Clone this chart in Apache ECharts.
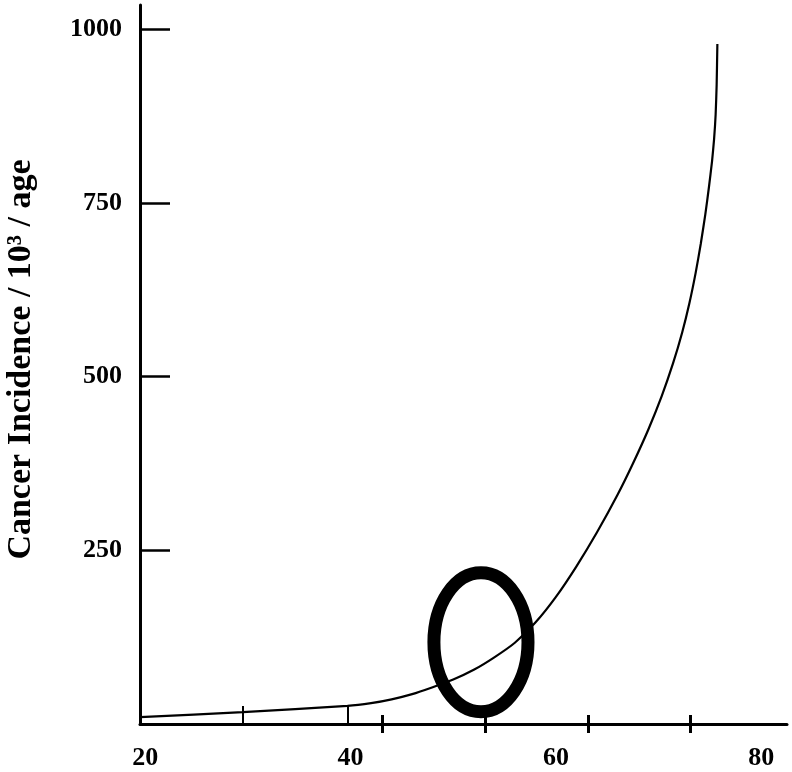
<!DOCTYPE html>
<html><head><meta charset="utf-8">
<script src="https://cdn.jsdelivr.net/npm/echarts@6/dist/echarts.min.js"></script>
<style>html,body{margin:0;padding:0;background:#fff}#c{width:792px;height:772px}</style>
</head><body><div id="c"></div>
<script>
// ---- data ----
const ageValues = [19.5, 29.5, 39.7, 42, 44, 46, 48, 50, 52, 54, 56, 58, 60, 62, 64, 66, 67.5, 69, 70.3, 71.4, 72.3, 73, 73.6, 74.1, 74.55, 74.9, 75.2, 75.4, 75.55, 75.65, 75.72];
const incidenceValues = [10, 17, 26, 30, 35.5, 43, 53, 64, 78, 96, 117, 146, 183, 227, 276, 330, 375, 424, 472, 519, 564, 606, 649, 691, 734, 773, 810, 842, 877, 920, 979];
const xLabelValues = [20, 40, 60, 80];
const yTickValues = [250, 500, 750, 1000];
const upperTickAges = [29.5, 39.7];
const crossTickAges = [43.1, 53.1, 63.1, 73.1];
// ellipse annotation: [centre age, centre incidence, half-width (years), half-height (incidence)]
const ellipseMark = [52.7, 117.6, 4.58, 100];
const yAxisTitle = 'Cancer Incidence / 10\u00B3 / age';

const X_MIN = 19.5, X_MAX = 82.5, Y_MIN = 0, Y_MAX = 1035;
const box = { left: 140, right: 5, top: 5, bottom: 48 };
const serif = 'Liberation Serif, Times New Roman, serif';

const lineData = ageValues.map((a, i) => [a, incidenceValues[i]]);

function baseX(idx, extra) {
  return Object.assign({
    type: 'value', gridIndex: idx, min: X_MIN, max: X_MAX,
    splitLine: { show: false },
    axisLine: { show: false },
    axisTick: { show: false },
    axisLabel: { show: false }
  }, extra);
}
function hiddenY(idx) {
  return { type: 'value', gridIndex: idx, min: Y_MIN, max: Y_MAX, show: false };
}

const option = {
  animation: false,
  backgroundColor: '#fff',
  grid: [0, 1, 2, 3].map(() => Object.assign({ containLabel: false, outerBoundsMode: 'none' }, box)),
  xAxis: [
    baseX(0, {
      axisLine: { show: true, onZero: false, lineStyle: { color: '#000', width: 3 } },
      axisLabel: {
        show: true, customValues: xLabelValues, margin: 21,
        formatter: v => String(v),
        color: '#000', fontFamily: serif, fontWeight: 'bold', fontSize: 26
      }
    }),
    baseX(1, {
      axisTick: { show: true, customValues: upperTickAges, inside: true, length: 18, lineStyle: { color: '#000', width: 2 } }
    }),
    baseX(2, {
      axisTick: { show: true, customValues: crossTickAges, inside: true, length: 9, lineStyle: { color: '#000', width: 3 } }
    }),
    baseX(3, {
      axisTick: { show: true, customValues: crossTickAges, inside: false, length: 9, lineStyle: { color: '#000', width: 3 } }
    })
  ],
  yAxis: [
    {
      type: 'value', gridIndex: 0, min: Y_MIN, max: Y_MAX,
      splitLine: { show: false },
      axisLine: { show: true, onZero: false, lineStyle: { color: '#000', width: 3 } },
      axisTick: { show: true, customValues: yTickValues, inside: true, length: 30, lineStyle: { color: '#000', width: 2.5 } },
      axisLabel: {
        customValues: yTickValues, margin: 18,
        formatter: v => String(v),
        color: '#000', fontFamily: serif, fontWeight: 'bold', fontSize: 26
      },
      name: yAxisTitle,
      nameLocation: 'middle',
      nameRotate: 90,
      nameGap: 102,
      nameTextStyle: { color: '#000', fontFamily: serif, fontWeight: 'bold', fontSize: 34, padding: [0, 0, 0, 10] }
    },
    hiddenY(1), hiddenY(2), hiddenY(3)
  ],
  series: [
    {
      type: 'line', xAxisIndex: 0, yAxisIndex: 0,
      data: lineData, showSymbol: false, smooth: 0.2,
      lineStyle: { color: '#000', width: 2.2 },
      silent: true
    },
    {
      type: 'custom', xAxisIndex: 0, yAxisIndex: 0, clip: false,
      data: [ellipseMark],
      renderItem: function (params, api) {
        const c = api.coord([api.value(0), api.value(1)]);
        const s = api.size([api.value(2), api.value(3)]);
        return {
          type: 'ellipse',
          shape: { cx: c[0], cy: c[1], rx: s[0], ry: s[1] },
          style: { fill: 'none', stroke: '#000', lineWidth: 13 }
        };
      },
      silent: true
    }
  ]
};

const chart = echarts.init(document.getElementById('c'), null, { renderer: 'canvas' });
chart.setOption(option);
</script>
</body></html>
